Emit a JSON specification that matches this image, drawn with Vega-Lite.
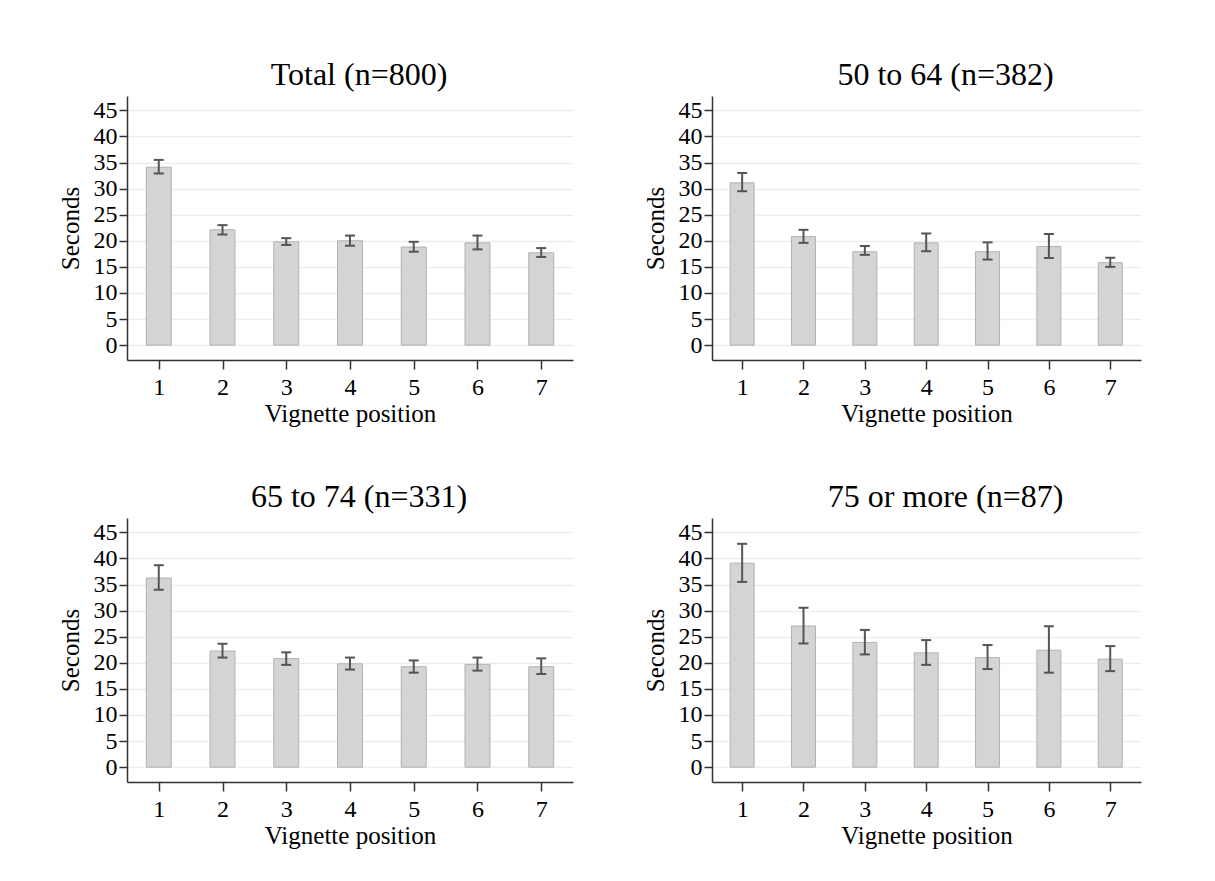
{
  "$schema": "https://vega.github.io/schema/vega-lite/v6.json",
  "background": "#ffffff",
  "padding": {"left": 58, "top": 59, "right": 5, "bottom": 5},
  "data": {"values": [
    {"g": "t", "pos": 1, "mean": 34.1, "lo": 32.9, "hi": 35.5},
    {"g": "t", "pos": 2, "mean": 22.1, "lo": 21.2, "hi": 23.0},
    {"g": "t", "pos": 3, "mean": 19.8, "lo": 19.2, "hi": 20.5},
    {"g": "t", "pos": 4, "mean": 20.0, "lo": 19.05, "hi": 21.0},
    {"g": "t", "pos": 5, "mean": 18.8, "lo": 17.9, "hi": 19.8},
    {"g": "t", "pos": 6, "mean": 19.6, "lo": 18.35, "hi": 21.0},
    {"g": "t", "pos": 7, "mean": 17.7, "lo": 16.9, "hi": 18.6},
    {"g": "a", "pos": 1, "mean": 31.1, "lo": 29.5, "hi": 33.0},
    {"g": "a", "pos": 2, "mean": 20.8, "lo": 19.6, "hi": 22.1},
    {"g": "a", "pos": 3, "mean": 17.9, "lo": 17.3, "hi": 19.0},
    {"g": "a", "pos": 4, "mean": 19.6, "lo": 18.0, "hi": 21.4},
    {"g": "a", "pos": 5, "mean": 17.9, "lo": 16.4, "hi": 19.7},
    {"g": "a", "pos": 6, "mean": 18.9, "lo": 16.7, "hi": 21.3},
    {"g": "a", "pos": 7, "mean": 15.8, "lo": 15.0, "hi": 16.75},
    {"g": "b", "pos": 1, "mean": 36.25, "lo": 34.0, "hi": 38.7},
    {"g": "b", "pos": 2, "mean": 22.25, "lo": 21.0, "hi": 23.65},
    {"g": "b", "pos": 3, "mean": 20.8, "lo": 19.6, "hi": 22.0},
    {"g": "b", "pos": 4, "mean": 19.8, "lo": 18.7, "hi": 21.0},
    {"g": "b", "pos": 5, "mean": 19.25, "lo": 18.1, "hi": 20.45},
    {"g": "b", "pos": 6, "mean": 19.7, "lo": 18.5, "hi": 21.0},
    {"g": "b", "pos": 7, "mean": 19.25, "lo": 17.85, "hi": 20.85},
    {"g": "c", "pos": 1, "mean": 39.1, "lo": 35.5, "hi": 42.8},
    {"g": "c", "pos": 2, "mean": 27.05, "lo": 23.7, "hi": 30.55},
    {"g": "c", "pos": 3, "mean": 23.9, "lo": 21.6, "hi": 26.3},
    {"g": "c", "pos": 4, "mean": 21.9, "lo": 19.6, "hi": 24.35},
    {"g": "c", "pos": 5, "mean": 21.0, "lo": 18.8, "hi": 23.4},
    {"g": "c", "pos": 6, "mean": 22.4, "lo": 18.1, "hi": 27.0},
    {"g": "c", "pos": 7, "mean": 20.7, "lo": 18.4, "hi": 23.2}
  ]},
  "vconcat": [
    {"hconcat": [
      {
        "width": 446, "height": 264,
        "title": {"text": "Total (n=800)", "dx": 9},
        "transform": [{"filter": "datum.g == 't'"}],
        "encoding": {"x": {"field": "pos", "type": "quantitative", "title": "Vignette position", "scale": {"domain": [0.58, 7.42], "nice": false, "zero": false}, "axis": {"values": [1,2,3,4,5,6,7], "format": "d"}}},
        "layer": [
          {"mark": {"type": "bar", "size": 25, "fill": "#d4d4d4", "stroke": "#b2b2b2", "strokeWidth": 1},
           "encoding": {"y": {"field": "mean", "type": "quantitative", "title": "Seconds", "scale": {"domain": [-2.85, 47.75], "nice": false, "zero": false}, "axis": {"values": [0,5,10,15,20,25,30,35,40,45]}}, "y2": {"datum": 0}}},
          {"mark": {"type": "rule", "color": "#555555", "strokeWidth": 2},
           "encoding": {"y": {"field": "lo", "type": "quantitative", "title": "Seconds", "axis": {"values": [0,5,10,15,20,25,30,35,40,45]}}, "y2": {"field": "hi", "title": "Seconds"}}},
          {"mark": {"type": "tick", "orient": "horizontal", "size": 10, "thickness": 2, "color": "#555555", "opacity": 1},
           "encoding": {"y": {"field": "lo", "type": "quantitative", "title": "Seconds", "axis": {"values": [0,5,10,15,20,25,30,35,40,45]}}}},
          {"mark": {"type": "tick", "orient": "horizontal", "size": 10, "thickness": 2, "color": "#555555", "opacity": 1},
           "encoding": {"y": {"field": "hi", "type": "quantitative", "title": "Seconds", "axis": {"values": [0,5,10,15,20,25,30,35,40,45]}}}}
        ]
      },
      {
        "width": 429, "height": 264,
        "title": {"text": "50 to 64 (n=382)", "dx": 19},
        "transform": [{"filter": "datum.g == 'a'"}],
        "encoding": {"x": {"field": "pos", "type": "quantitative", "title": "Vignette position", "scale": {"domain": [0.59, 7.42], "nice": false, "zero": false}, "axis": {"values": [1,2,3,4,5,6,7], "format": "d"}}},
        "layer": [
          {"mark": {"type": "bar", "size": 24, "fill": "#d4d4d4", "stroke": "#b2b2b2", "strokeWidth": 1},
           "encoding": {"y": {"field": "mean", "type": "quantitative", "title": "Seconds", "scale": {"domain": [-2.85, 47.75], "nice": false, "zero": false}, "axis": {"values": [0,5,10,15,20,25,30,35,40,45]}}, "y2": {"datum": 0}}},
          {"mark": {"type": "rule", "color": "#555555", "strokeWidth": 2},
           "encoding": {"y": {"field": "lo", "type": "quantitative", "title": "Seconds", "axis": {"values": [0,5,10,15,20,25,30,35,40,45]}}, "y2": {"field": "hi", "title": "Seconds"}}},
          {"mark": {"type": "tick", "orient": "horizontal", "size": 10, "thickness": 2, "color": "#555555", "opacity": 1},
           "encoding": {"y": {"field": "lo", "type": "quantitative", "title": "Seconds", "axis": {"values": [0,5,10,15,20,25,30,35,40,45]}}}},
          {"mark": {"type": "tick", "orient": "horizontal", "size": 10, "thickness": 2, "color": "#555555", "opacity": 1},
           "encoding": {"y": {"field": "hi", "type": "quantitative", "title": "Seconds", "axis": {"values": [0,5,10,15,20,25,30,35,40,45]}}}}
        ]
      }
    ]},
    {"hconcat": [
      {
        "width": 446, "height": 264,
        "title": {"text": "65 to 74 (n=331)", "dx": 9},
        "transform": [{"filter": "datum.g == 'b'"}],
        "encoding": {"x": {"field": "pos", "type": "quantitative", "title": "Vignette position", "scale": {"domain": [0.58, 7.42], "nice": false, "zero": false}, "axis": {"values": [1,2,3,4,5,6,7], "format": "d"}}},
        "layer": [
          {"mark": {"type": "bar", "size": 25, "fill": "#d4d4d4", "stroke": "#b2b2b2", "strokeWidth": 1},
           "encoding": {"y": {"field": "mean", "type": "quantitative", "title": "Seconds", "scale": {"domain": [-2.85, 47.75], "nice": false, "zero": false}, "axis": {"values": [0,5,10,15,20,25,30,35,40,45]}}, "y2": {"datum": 0}}},
          {"mark": {"type": "rule", "color": "#555555", "strokeWidth": 2},
           "encoding": {"y": {"field": "lo", "type": "quantitative", "title": "Seconds", "axis": {"values": [0,5,10,15,20,25,30,35,40,45]}}, "y2": {"field": "hi", "title": "Seconds"}}},
          {"mark": {"type": "tick", "orient": "horizontal", "size": 10, "thickness": 2, "color": "#555555", "opacity": 1},
           "encoding": {"y": {"field": "lo", "type": "quantitative", "title": "Seconds", "axis": {"values": [0,5,10,15,20,25,30,35,40,45]}}}},
          {"mark": {"type": "tick", "orient": "horizontal", "size": 10, "thickness": 2, "color": "#555555", "opacity": 1},
           "encoding": {"y": {"field": "hi", "type": "quantitative", "title": "Seconds", "axis": {"values": [0,5,10,15,20,25,30,35,40,45]}}}}
        ]
      },
      {
        "width": 429, "height": 264,
        "title": {"text": "75 or more (n=87)", "dx": 19},
        "transform": [{"filter": "datum.g == 'c'"}],
        "encoding": {"x": {"field": "pos", "type": "quantitative", "title": "Vignette position", "scale": {"domain": [0.59, 7.42], "nice": false, "zero": false}, "axis": {"values": [1,2,3,4,5,6,7], "format": "d"}}},
        "layer": [
          {"mark": {"type": "bar", "size": 24, "fill": "#d4d4d4", "stroke": "#b2b2b2", "strokeWidth": 1},
           "encoding": {"y": {"field": "mean", "type": "quantitative", "title": "Seconds", "scale": {"domain": [-2.85, 47.75], "nice": false, "zero": false}, "axis": {"values": [0,5,10,15,20,25,30,35,40,45]}}, "y2": {"datum": 0}}},
          {"mark": {"type": "rule", "color": "#555555", "strokeWidth": 2},
           "encoding": {"y": {"field": "lo", "type": "quantitative", "title": "Seconds", "axis": {"values": [0,5,10,15,20,25,30,35,40,45]}}, "y2": {"field": "hi", "title": "Seconds"}}},
          {"mark": {"type": "tick", "orient": "horizontal", "size": 10, "thickness": 2, "color": "#555555", "opacity": 1},
           "encoding": {"y": {"field": "lo", "type": "quantitative", "title": "Seconds", "axis": {"values": [0,5,10,15,20,25,30,35,40,45]}}}},
          {"mark": {"type": "tick", "orient": "horizontal", "size": 10, "thickness": 2, "color": "#555555", "opacity": 1},
           "encoding": {"y": {"field": "hi", "type": "quantitative", "title": "Seconds", "axis": {"values": [0,5,10,15,20,25,30,35,40,45]}}}}
        ]
      }
    ]}
  ],
  "spacing": 55,
  "config": {
    "font": "Liberation Serif",
    "view": {"stroke": null},
    "concat": {"spacing": 70},
    "axis": {"labelFont": "Liberation Serif", "titleFont": "Liberation Serif", "labelFontSize": 24, "titleFontSize": 25, "titleFontWeight": "normal", "labelColor": "#000000", "titleColor": "#000000", "domainColor": "#333333", "tickColor": "#333333", "domainWidth": 1.5, "tickWidth": 1.5, "labelOverlap": false, "labelBound": false, "labelFlush": false},
    "axisY": {"grid": true, "gridColor": "#e6eff1", "gridWidth": 1.5, "tickSize": 8, "labelPadding": 2, "titlePadding": 10},
    "axisX": {"grid": false, "tickSize": 9, "labelPadding": 6, "titlePadding": 2},
    "title": {"font": "Liberation Serif", "fontSize": 32, "fontWeight": "normal", "color": "#000000", "offset": 4}
  }
}
